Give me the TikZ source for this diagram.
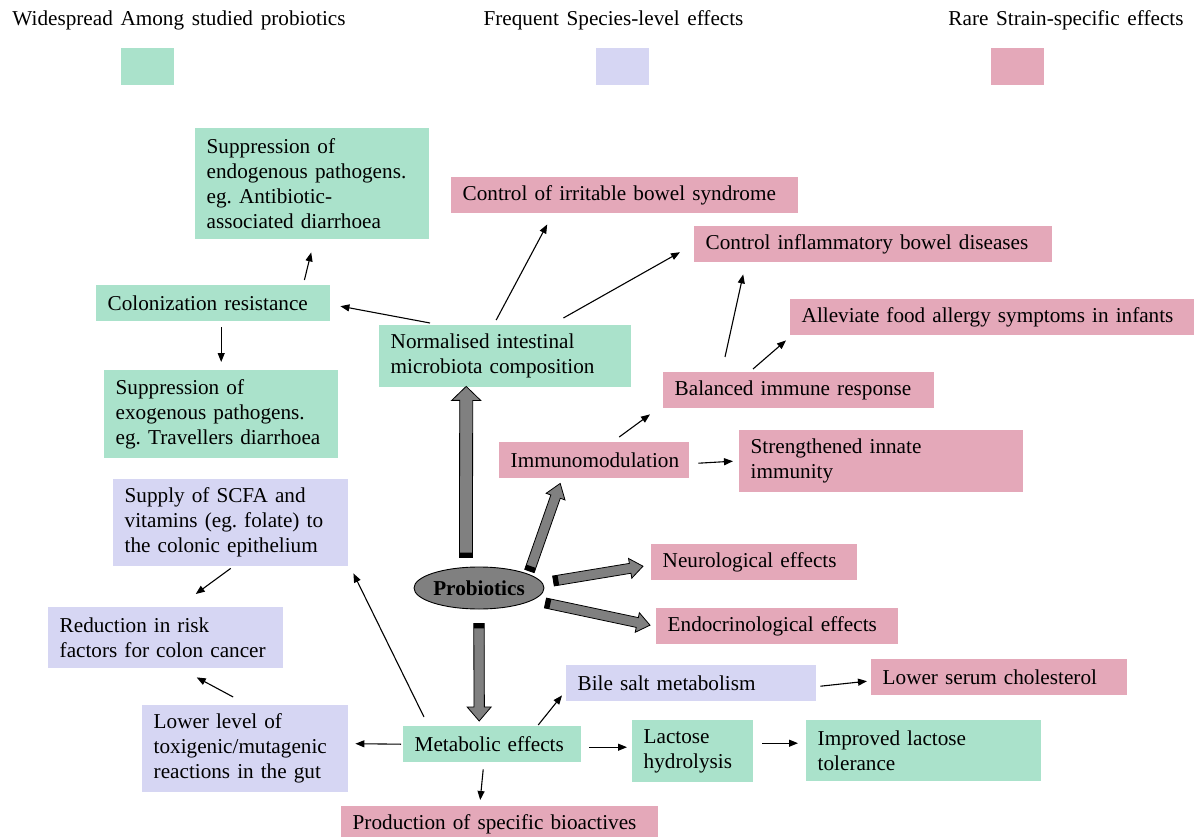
\documentclass[tikz,border=0pt]{standalone}
\usepackage{fontspec}
\setmainfont{Liberation Serif}[WordSpace=1.45]
\usetikzlibrary{arrows.meta,calc,shapes.geometric}
\definecolor{cgreen}{RGB}{170,226,203}
\definecolor{clav}{RGB}{214,214,243}
\definecolor{cpink}{RGB}{228,168,185}
\definecolor{fatgray}{RGB}{128,128,128}
\newcommand\mainsize{\fontsize{21.2pt}{25pt}\selectfont}
% #1 start, #2 end, #3 shaft half width, #4 head half width, #5 head length, #6 band length
\newcommand\fatarrow[6]{%
  \path let \p1=(#1), \p2=(#2) in \pgfextra{%
    \pgfmathsetmacro\faang{atan2(\y2-\y1,\x2-\x1)}%
    \pgfmathsetmacro\falen{veclen(\x2-\x1,\y2-\y1)}%
    \global\let\faang\faang \global\let\falen\falen};
  \begin{scope}[shift={(#1)}, rotate=\faang]
    \draw[fat] (0,-#3) -- (\falen-#5,-#3) -- (\falen-#5,-#4) -- (\falen,0)
      -- (\falen-#5,#4) -- (\falen-#5,#3) -- (0,#3) -- cycle;
    \fill[black] (0,-#3) rectangle (#6,#3);
  \end{scope}}
\tikzset{
  box/.style={anchor=north west, inner xsep=11.5pt, inner ysep=0pt, align=left, font=\mainsize},
  gbox/.style={box, fill=cgreen},
  lbox/.style={box, fill=clav},
  pbox/.style={box, fill=cpink},
  legbox/.style={anchor=north west, inner sep=0pt, minimum width=53pt, minimum height=37pt},
  legtext/.style={anchor=base, inner sep=0pt, font=\mainsize},
  arr/.style={-{Triangle[length=9pt,width=7pt]}, line width=1.1pt},
  fat/.style={fill=fatgray, draw=black, line width=0.8pt, line join=miter},
}
\begin{document}
\frenchspacing
\begin{tikzpicture}[x=1pt, y=-1pt]
\useasboundingbox (0,0) rectangle (1194,837);

% legend
\node[legtext] (lt1) at (179,26) {Widespread Among studied probiotics};
\node[legtext] (lt2) at (613.5,26) {Frequent Species-level effects};
\node[legtext] (lt3) at (1066,26) {Rare Strain-specific effects};
\node[legbox, fill=cgreen] (lg1) at (121,48) {};
\node[legbox, fill=clav] (lg2) at (596,48) {};
\node[legbox, fill=cpink] (lg3) at (991,48) {};

% boxes
\node[gbox, minimum width=234pt, minimum height=111pt, text width=211pt] (supEndo) at (195,128)
  {Suppression of\\endogenous pathogens.\\eg. Antibiotic-\\associated diarrhoea};
\node[pbox, minimum width=347pt, minimum height=36pt, text width=324pt] (ibs) at (451,177)
  {Control of irritable bowel syndrome};
\node[pbox, minimum width=358pt, minimum height=36pt, text width=335pt] (ibd) at (694,226)
  {Control inflammatory bowel diseases};
\node[gbox, minimum width=234pt, minimum height=36pt, text width=211pt] (col) at (96,285)
  {Colonization resistance};
\node[pbox, minimum width=404pt, minimum height=36pt, text width=385pt] (allergy) at (790,299)
  {\mbox{Alleviate food allergy symptoms in infants}};
\node[gbox, minimum width=252pt, minimum height=62pt, text width=229pt] (norm) at (379,325)
  {Normalised intestinal\\microbiota composition};
\node[gbox, minimum width=234pt, minimum height=88pt, text width=211pt] (supExo) at (104,370)
  {Suppression of\\exogenous pathogens.\\eg. Travellers diarrhoea};
\node[pbox, minimum width=271pt, minimum height=36pt, text width=248pt] (bal) at (663,372)
  {Balanced immune response};
\node[pbox, minimum width=190pt, minimum height=36pt, text width=167pt] (imm) at (499,442)
  {Immunomodulation};
\node[pbox, minimum width=284pt, minimum height=62pt, text width=261pt] (innate) at (739,430)
  {Strengthened innate\\immunity};
\node[lbox, minimum width=235pt, minimum height=87pt, text width=212pt] (scfa) at (113,479)
  {Supply of SCFA and\\vitamins (eg. folate) to\\the colonic epithelium};
\node[pbox, minimum width=206pt, minimum height=36pt, text width=183pt] (neuro) at (651,544)
  {Neurological effects};
\node[lbox, minimum width=235pt, minimum height=61pt, text width=212pt] (risk) at (48,607)
  {Reduction in risk\\factors for colon cancer};
\node[pbox, minimum width=242pt, minimum height=36pt, text width=219pt] (endo) at (656,608)
  {Endocrinological effects};
\node[lbox, minimum width=250pt, minimum height=36pt, text width=227pt] (bile) at (566,665)
  {Bile salt metabolism};
\node[pbox, minimum width=256pt, minimum height=36pt, text width=233pt] (chol) at (871,659)
  {Lower serum cholesterol};
\node[lbox, minimum width=206pt, minimum height=87pt, text width=183pt] (lower) at (142,705)
  {Lower level of\\toxigenic/mutagenic\\reactions in the gut};
\node[gbox, minimum width=178pt, minimum height=36pt, text width=155pt] (met) at (403,726)
  {Metabolic effects};
\node[gbox, minimum width=121pt, minimum height=62pt, text width=98pt] (lac) at (632,720)
  {Lactose\\hydrolysis};
\node[gbox, minimum width=235pt, minimum height=61pt, text width=212pt] (imp) at (806,720)
  {Improved lactose\\tolerance};
\node[pbox, minimum width=317pt, minimum height=36pt, text width=294pt] (prod) at (341,806)
  {Production of specific bioactives};

% central ellipse
\node[ellipse, draw=black, line width=0.9pt, fill=fatgray, minimum width=130pt, minimum height=42pt,
      inner sep=0pt, font=\mainsize\bfseries] (pro) at (479,588) {Probiotics};

% thin arrows
\draw[arr] ($(col.north east)+(-26,-5)$) -- ($(supEndo.south)+(-1,13)$);
\draw[arr] ($(col.south)+(8,6)$) -- ($(supExo.north)+(0,-8)$);
\draw[arr] ($(norm.north west)+(51,-2)$) -- ($(col.east)+(10,3)$);
\draw[arr] ($(norm.north)+(-9,-5)$) -- ($(ibs.south)+(-77.5,11)$);
\draw[arr] ($(norm.north east)+(-68,-7)$) -- ($(ibd.west)+(-14,8)$);
\draw[arr] ($(bal.north west)+(62,-15)$) -- ($(ibd.south)+(-130,12)$);
\draw[arr] ($(bal.north west)+(90,-3)$) -- ($(allergy.south west)+(-4,5)$);
\draw[arr] ($(imm.north)+(25,-5)$) -- ($(bal.south west)+(-13,6)$);
\draw[arr] ($(imm.east)+(9,3)$) -- ($(innate.west)+(-6,0)$);
\draw[arr] ($(scfa.south)+(0,2)$) -- ($(risk.north)+(30,-13)$);
\draw[arr] ($(met.north west)+(21,-9)$) -- ($(scfa.south east)+(5,7)$);
\draw[arr] ($(lower.north)+(-12,-8)$) -- ($(risk.south)+(31,9)$);
\draw[arr] ($(met.west)+(-2,0)$) -- ($(lower.east)+(7,-5)$);
\draw[arr] ($(met.north)+(46,-1)$) -- ($(bile.south west)+(-4,-6)$);
\draw[arr] ($(met.east)+(8,3)$) -- ($(lac.west)+(-5,-4)$);
\draw[arr] ($(met.south)+(-9,7)$) -- ($(prod.north)+(-19.5,-6)$);
\draw[arr] ($(lac.east)+(9,-8)$) -- ($(imp.west)+(-8,-7.5)$);
\draw[arr] ($(bile.east)+(4,3)$) -- ($(chol.west)+(-4,4)$);

% fat arrows
\coordinate (fu1) at ($(pro.north)+(-13,-9)$);
\coordinate (fu2) at ($(norm.south)+(-39,-1)$);
\coordinate (fd1) at ($(pro.south)+(0,14)$);
\coordinate (fd2) at ($(met.north)+(-13,-5)$);
\coordinate (fi1) at ($(pro.east)+(-15,-17)$);
\coordinate (fi2) at ($(imm.south)+(-34,5)$);
\coordinate (fn1) at ($(pro.east)+(9,-7)$);
\coordinate (fn2) at ($(neuro.west)+(-8,4)$);
\coordinate (fe1) at ($(pro.east)+(1,15)$);
\coordinate (fe2) at ($(endo.west)+(-6,-1)$);
\fatarrow{fu1}{fu2}{6.5}{14.5}{14}{5}
\fatarrow{fd1}{fd2}{5.2}{12}{14}{5}
\fatarrow{fi1}{fi2}{5}{10}{14}{5}
\fatarrow{fn1}{fn2}{5}{10}{13}{5}
\fatarrow{fe1}{fe2}{5}{10}{13}{5}
\end{tikzpicture}
\end{document}
